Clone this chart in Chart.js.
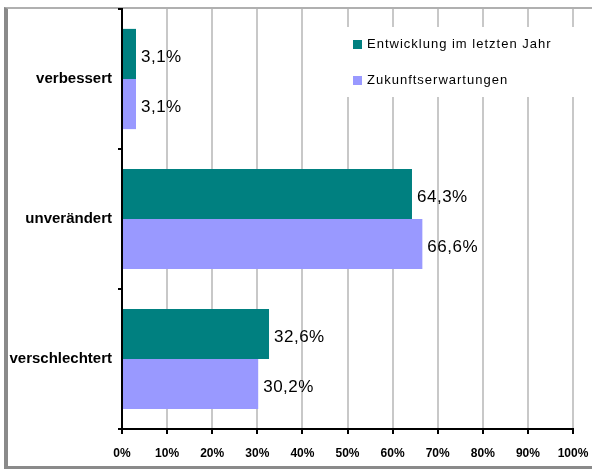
<!DOCTYPE html>
<html>
<head>
<meta charset="utf-8">
<script src="https://cdn.jsdelivr.net/npm/chart.js@4"></script>
<style>
  html, body { margin: 0; padding: 0; background: #fff; }
  #wrap { position: relative; width: 592px; height: 469px; overflow: hidden; }
  #frame {
    position: absolute; left: 4px; top: 7px; width: 600px; height: 457px;
    border-left: 4px solid #8a8a8a; border-top: 2px solid #b0b0b0; border-bottom: 3px solid #8a8a8a;
  }
  canvas { position: absolute; left: 0; top: 0; }
</style>
</head>
<body>
<div id="wrap">
  <div id="frame"></div>
  <canvas id="chart" width="592" height="469"></canvas>
</div>
<script>
const categories = ["verbessert", "unverändert", "verschlechtert"];
const seriesNames = ["Entwicklung im letzten Jahr", "Zukunftserwartungen"];
const entwicklung = [3.1, 64.3, 32.6];
const zukunft = [3.1, 66.6, 30.2];
const colors = ["#008080", "#9999ff"];

// value labels right of each bar, German decimal comma
const valueLabels = {
  id: "valueLabels",
  afterDatasetsDraw(chart) {
    const ctx = chart.ctx;
    ctx.save();
    ctx.font = '17px "Liberation Sans", Arial, sans-serif';
    ctx.letterSpacing = "0.5px";
    ctx.fillStyle = "#000";
    ctx.textBaseline = "middle";
    chart.data.datasets.forEach((ds, i) => {
      chart.getDatasetMeta(i).data.forEach((bar, j) => {
        const txt = ds.data[j].toFixed(1).replace(".", ",") + "%";
        ctx.fillText(txt, bar.x + 5, bar.y + 3);
      });
    });
    ctx.restore();
  }
};

// legend box inside plot, top right, white background
const boxLegend = {
  id: "boxLegend",
  afterDatasetsDraw(chart) {
    const ctx = chart.ctx;
    ctx.save();
    ctx.fillStyle = "#fff";
    ctx.fillRect(340, 27, 245, 70);
    ctx.font = '13px "Liberation Sans", Arial, sans-serif';
    ctx.letterSpacing = "1px";
    ctx.textBaseline = "middle";
    chart.data.datasets.forEach((ds, i) => {
      const y = 44 + i * 36;
      ctx.fillStyle = ds.backgroundColor;
      ctx.fillRect(353, y - 4, 9, 9);
      ctx.fillStyle = "#000";
      ctx.fillText(ds.label, 367, y);
    });
    ctx.restore();
  }
};

new Chart(document.getElementById("chart"), {
  type: "bar",
  data: {
    labels: categories,
    datasets: [
      { label: seriesNames[0], data: entwicklung, backgroundColor: colors[0] },
      { label: seriesNames[1], data: zukunft, backgroundColor: colors[1] }
    ]
  },
  options: {
    indexAxis: "y",
    responsive: false,
    animation: false,
    categoryPercentage: 0.716,
    barPercentage: 1,
    layout: { padding: { top: 9, right: 19, left: 0, bottom: 0 } },
    plugins: { legend: { display: false }, tooltip: { enabled: false } },
    scales: {
      x: {
        min: 0, max: 100,
        afterFit: (s) => { s.height = 40; s.paddingLeft = 0; s.paddingRight = 0; },
        ticks: {
          stepSize: 10,
          padding: 12,
          color: "#000",
          font: { family: '"Liberation Sans", Arial, sans-serif', size: 12, weight: "bold" },
          callback: (v) => v + "%"
        },
        grid: { color: "#c8c8c8", lineWidth: 2, tickColor: "#000", tickLength: 5 },
        border: { color: "#000", width: 2 }
      },
      y: {
        afterFit: (s) => { s.width = 122; s.paddingTop = 0; s.paddingBottom = 0; },
        ticks: {
          padding: 6,
          color: "#000",
          font: { family: '"Liberation Sans", Arial, sans-serif', size: 15, weight: "bold" }
        },
        grid: { display: true, drawOnChartArea: false, color: "#000", tickLength: 4, lineWidth: 2 },
        border: { color: "#000", width: 2 }
      }
    }
  },
  plugins: [valueLabels, boxLegend]
});
</script>
</body>
</html>
